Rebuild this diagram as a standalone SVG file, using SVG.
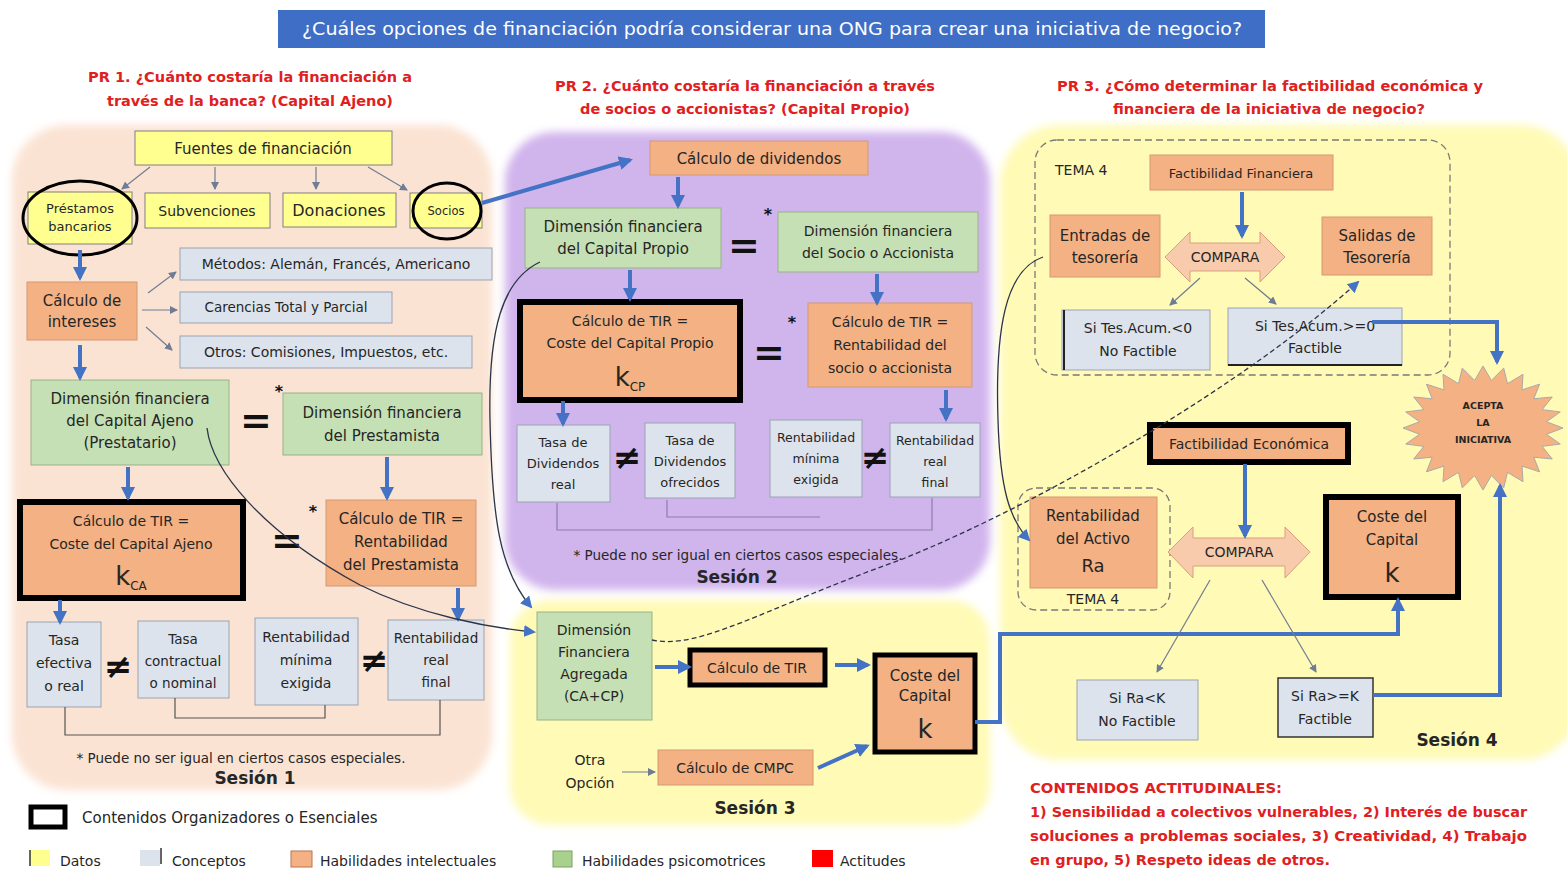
<svg xmlns="http://www.w3.org/2000/svg" width="1567" height="874" viewBox="0 0 1567 874">
<style>
text{font-family:"DejaVu Sans","Liberation Sans",sans-serif;fill:#262626;text-anchor:middle}
.s12{font-size:12.5px}.s13{font-size:13px}.s135{font-size:13.5px}.s14{font-size:14px}.s15{font-size:15px}.s16{font-size:16px}
.red{fill:#E0201E;font-weight:bold;font-size:13.5px}
.ses{font-size:17px;font-weight:bold}
.eq{font-size:38px;font-weight:bold;fill:#111}
.ne{font-size:34px;font-weight:bold;fill:#111}
.ast{font-size:16px;font-weight:bold;fill:#111}
.yel{fill:#FFFF8F;stroke:#7F7F7F;stroke-width:1}
.ora{fill:#F4B183;stroke:#D39A74;stroke-width:1}
.grn{fill:#C5E0B4;stroke:#97B386;stroke-width:1}
.con{fill:#DDE3EC;stroke:#9AA3B5;stroke-width:1}
.ess{stroke:#000;stroke-width:6}
.ess5{stroke:#000;stroke-width:5}
.blue{stroke:#4472C4;stroke-width:4;fill:none;marker-end:url(#ab)}
.thin{stroke:#6F7C94;stroke-width:1.2;fill:none;marker-end:url(#at)}
.curve{stroke:#2B3448;stroke-width:1.3;fill:none;marker-end:url(#ab2)}
.dash{stroke:#2B3448;stroke-width:1.3;fill:none;stroke-dasharray:5 3;marker-end:url(#ab2)}
.brk{stroke:#555;stroke-width:1.2;fill:none}
.tema{fill:none;stroke:#7A7A7A;stroke-width:1.3;stroke-dasharray:7 4}
</style>
<defs>
<marker id="ab" markerUnits="userSpaceOnUse" markerWidth="14" markerHeight="14" refX="11" refY="7" orient="auto"><path d="M0,0 L14,7 L0,14 z" fill="#4472C4"/></marker>
<marker id="ab2" markerUnits="userSpaceOnUse" markerWidth="12" markerHeight="12" refX="10" refY="6" orient="auto"><path d="M0,0 L12,6 L0,12 z" fill="#4472C4"/></marker>
<marker id="at" markerUnits="userSpaceOnUse" markerWidth="8" markerHeight="8" refX="7" refY="4" orient="auto"><path d="M0,0 L8,4 L0,8 z" fill="#6F7C94"/></marker>
<filter id="soft" x="-5%" y="-5%" width="110%" height="110%"><feGaussianBlur stdDeviation="4"/></filter>
</defs>
<rect width="1567" height="874" fill="#FFFFFF"/>

<!-- session backgrounds -->
<g id="backgrounds" filter="url(#soft)">
<rect x="12" y="125" width="480" height="665" rx="55" fill="#FBE3D3"/>
<rect x="505" y="132" width="485" height="458" rx="50" fill="#D0B4EC"/>
<rect x="510" y="600" width="480" height="225" rx="40" fill="#FFFAB5"/>
<rect x="1000" y="125" width="580" height="635" rx="60" fill="#FFFAB5"/>
</g>

<!-- title -->
<g id="title">
<rect x="278" y="10" width="987" height="38" fill="#3F6EC6"/>
<text x="772" y="35" style="font-size:18px;fill:#FFFFFF" textLength="940" lengthAdjust="spacingAndGlyphs">¿Cuáles opciones de financiación podría considerar una ONG para crear una iniciativa de negocio?</text>
</g>
<g id="questions">
<text class="red" x="250" y="82" textLength="324" lengthAdjust="spacingAndGlyphs">PR 1. ¿Cuánto costaría la financiación a</text>
<text class="red" x="250" y="106" textLength="286" lengthAdjust="spacingAndGlyphs">través de la banca? (Capital Ajeno)</text>
<text class="red" x="745" y="91" textLength="380" lengthAdjust="spacingAndGlyphs">PR 2. ¿Cuánto costaría la financiación a través</text>
<text class="red" x="745" y="114" textLength="330" lengthAdjust="spacingAndGlyphs">de socios o accionistas? (Capital Propio)</text>
<text class="red" x="1270" y="91" textLength="426" lengthAdjust="spacingAndGlyphs">PR 3. ¿Cómo determinar la factibilidad económica y</text>
<text class="red" x="1269" y="114" textLength="312" lengthAdjust="spacingAndGlyphs">financiera de la iniciativa de negocio?</text>
</g>

<!-- Session 1 nodes -->
<g id="fuentes"><rect class="yel" x="135" y="131" width="257" height="34"/><text class="s15" x="263" y="154">Fuentes de financiación</text></g>
<g id="prestamos"><rect class="yel" x="28" y="192" width="104" height="52"/><text class="s13" x="80" y="213">Préstamos</text><text class="s13" x="80" y="231">bancarios</text><ellipse cx="80" cy="218" rx="57" ry="37" fill="none" stroke="#000" stroke-width="3"/></g>
<g id="subvenciones"><rect class="yel" x="145" y="193" width="125" height="35"/><text class="s14" x="207" y="216">Subvenciones</text></g>
<g id="donaciones"><rect class="yel" x="283" y="193" width="113" height="34"/><text class="s16" x="339" y="216">Donaciones</text></g>
<g id="socios"><rect class="yel" x="410" y="193" width="72" height="35"/><text style="font-size:11.5px" x="446" y="215">Socios</text><ellipse cx="447" cy="211" rx="34" ry="28" fill="none" stroke="#000" stroke-width="3"/></g>
<g id="calculo-intereses"><rect class="ora" x="27" y="282" width="110" height="58"/><text class="s15" x="82" y="306">Cálculo de</text><text class="s15" x="82" y="327">intereses</text></g>
<g id="metodos"><rect class="con" x="180" y="248" width="312" height="32"/><text class="s14" x="336" y="269">Métodos: Alemán, Francés, Americano</text></g>
<g id="carencias"><rect class="con" x="180" y="292" width="212" height="31"/><text class="s135" x="286" y="312">Carencias Total y Parcial</text></g>
<g id="otros"><rect class="con" x="180" y="336" width="292" height="32"/><text class="s14" x="326" y="357">Otros: Comisiones, Impuestos, etc.</text></g>
<g id="dim-ca"><rect class="grn" x="31" y="380" width="198" height="85"/><text class="s15" x="130" y="404">Dimensión financiera</text><text class="s15" x="130" y="426">del Capital Ajeno</text><text class="s15" x="130" y="448">(Prestatario)</text></g>
<text class="eq" x="256" y="433">=</text><text class="ast" x="279" y="397">*</text>
<g id="dim-prestamista"><rect class="grn" x="283" y="393" width="199" height="62"/><text class="s15" x="382" y="418">Dimensión financiera</text><text class="s15" x="382" y="441">del Prestamista</text></g>
<g id="tir-ca"><rect class="ora ess" x="20" y="502" width="223" height="96"/><text class="s14" x="131" y="526">Cálculo de TIR =</text><text class="s14" x="131" y="549">Coste del Capital Ajeno</text><text x="131" y="585"><tspan style="font-size:26px">k</tspan><tspan style="font-size:12px" dy="5">CA</tspan></text></g>
<text class="eq" x="287" y="553">=</text><text class="ast" x="313" y="517">*</text>
<g id="tir-prestamista"><rect class="ora" x="326" y="500" width="150" height="86"/><text class="s15" x="401" y="524">Cálculo de TIR =</text><text class="s15" x="401" y="547">Rentabilidad</text><text class="s15" x="401" y="570">del Prestamista</text></g>
<g id="tasa-efectiva"><rect class="con" x="27" y="622" width="74" height="85"/><text class="s14" x="64" y="645">Tasa</text><text class="s14" x="64" y="668">efectiva</text><text class="s14" x="64" y="691">o real</text></g>
<text class="ne" x="118" y="678">≠</text>
<g id="tasa-contractual"><rect class="con" x="138" y="621" width="91" height="77"/><text class="s135" x="183" y="644">Tasa</text><text class="s135" x="183" y="666">contractual</text><text class="s135" x="183" y="688">o nominal</text></g>
<g id="rent-minima-1"><rect class="con" x="255" y="618" width="103" height="87"/><text class="s14" x="306" y="642">Rentabilidad</text><text class="s14" x="306" y="665">mínima</text><text class="s14" x="306" y="688">exigida</text></g>
<text class="ne" x="374" y="672">≠</text>
<g id="rent-real-1"><rect class="con" x="388" y="620" width="96" height="80"/><text class="s135" x="436" y="643">Rentabilidad</text><text class="s135" x="436" y="665">real</text><text class="s135" x="436" y="687">final</text></g>
<text class="s135" x="241" y="763">* Puede no ser igual en ciertos casos especiales.</text>
<text class="ses" x="255" y="784">Sesión 1</text>

<!-- Session 2 nodes -->
<g id="calculo-dividendos"><rect class="ora" x="650" y="141" width="218" height="34"/><text class="s15" x="759" y="164">Cálculo de dividendos</text></g>
<g id="dim-cp"><rect class="grn" x="525" y="208" width="196" height="60"/><text class="s15" x="623" y="232">Dimensión financiera</text><text class="s15" x="623" y="254">del Capital Propio</text></g>
<text class="eq" x="744" y="258">=</text><text class="ast" x="768" y="220">*</text>
<g id="dim-socio"><rect class="grn" x="778" y="212" width="200" height="60"/><text class="s14" x="878" y="236">Dimensión financiera</text><text class="s14" x="878" y="258">del Socio o Accionista</text></g>
<g id="tir-cp"><rect class="ora ess" x="520" y="302" width="220" height="98"/><text class="s14" x="630" y="326">Cálculo de TIR =</text><text class="s14" x="630" y="348">Coste del Capital Propio</text><text x="630" y="386"><tspan style="font-size:26px">k</tspan><tspan style="font-size:12px" dy="5">CP</tspan></text></g>
<text class="eq" x="769" y="365">=</text><text class="ast" x="792" y="328">*</text>
<g id="tir-socio"><rect class="ora" x="808" y="303" width="164" height="84"/><text class="s14" x="890" y="327">Cálculo de TIR =</text><text class="s14" x="890" y="350">Rentabilidad del</text><text class="s14" x="890" y="373">socio o accionista</text></g>
<g id="tasa-div-real"><rect class="con" x="517" y="425" width="93" height="77"/><text class="s13" x="563" y="447">Tasa de</text><text class="s13" x="563" y="468">Dividendos</text><text class="s13" x="563" y="489">real</text></g>
<text class="ne" x="627" y="469">≠</text>
<g id="tasa-div-ofrecidos"><rect class="con" x="645" y="423" width="90" height="75"/><text class="s13" x="690" y="445">Tasa de</text><text class="s13" x="690" y="466">Dividendos</text><text class="s13" x="690" y="487">ofrecidos</text></g>
<g id="rent-minima-2"><rect class="con" x="770" y="420" width="92" height="77"/><text class="s12" x="816" y="442">Rentabilidad</text><text class="s12" x="816" y="463">mínima</text><text class="s12" x="816" y="484">exigida</text></g>
<text class="ne" x="875" y="469">≠</text>
<g id="rent-real-2"><rect class="con" x="890" y="423" width="90" height="74"/><text class="s12" x="935" y="445">Rentabilidad</text><text class="s12" x="935" y="466">real</text><text class="s12" x="935" y="487">final</text></g>
<text class="s135" x="738" y="560">* Puede no ser igual en ciertos casos especiales.</text>
<text class="ses" x="737" y="583">Sesión 2</text>

<!-- Session 3 nodes -->
<g id="dim-agregada"><rect class="grn" x="537" y="612" width="115" height="108"/><text class="s14" x="594" y="635">Dimensión</text><text class="s14" x="594" y="657">Financiera</text><text class="s14" x="594" y="679">Agregada</text><text class="s14" x="594" y="701">(CA+CP)</text></g>
<g id="calculo-tir"><rect class="ora ess5" x="690" y="650" width="135" height="35"/><text class="s14" x="757" y="673">Cálculo de TIR</text></g>
<g id="coste-capital-3"><rect class="ora ess5" x="875" y="655" width="100" height="97"/><text class="s15" x="925" y="681">Coste del</text><text class="s15" x="925" y="701">Capital</text><text x="925" y="738" style="font-size:26px">k</text></g>
<g id="otra-opcion"><text class="s14" x="590" y="765">Otra</text><text class="s14" x="590" y="788">Opción</text></g>
<g id="calculo-cmpc"><rect class="ora" x="658" y="750" width="155" height="35"/><text class="s14" x="735" y="773">Cálculo de CMPC</text></g>
<text class="ses" x="755" y="814">Sesión 3</text>

<!-- Session 4 nodes -->
<rect class="tema" x="1035" y="140" width="415" height="235" rx="22"/>
<text class="s14" x="1055" y="175" style="text-anchor:start">TEMA 4</text>
<g id="fact-financiera"><rect class="ora" x="1150" y="155" width="183" height="35"/><text class="s13" x="1241" y="178">Factibilidad Financiera</text></g>
<g id="entradas"><rect class="ora" x="1050" y="215" width="110" height="62"/><text class="s15" x="1105" y="241">Entradas de</text><text class="s15" x="1105" y="263">tesorería</text></g>
<g id="compara-1"><polygon points="1165,257 1190,232 1190,243 1260,243 1260,232 1285,257 1260,282 1260,271 1190,271 1190,282" fill="#F8CBAD" stroke="#D9A07A" stroke-width="1"/><text class="s14" x="1225" y="262">COMPARA</text></g>
<g id="salidas"><rect class="ora" x="1322" y="217" width="110" height="58"/><text class="s15" x="1377" y="241">Salidas de</text><text class="s15" x="1377" y="263">Tesorería</text></g>
<g id="tes-no"><rect class="con" x="1062" y="310" width="148" height="60"/><line x1="1064" y1="310" x2="1064" y2="370" stroke="#222" stroke-width="2"/><text class="s14" x="1138" y="333">Si Tes.Acum.&lt;0</text><text class="s14" x="1138" y="356">No Factible</text></g>
<g id="tes-si"><rect class="con" x="1228" y="308" width="174" height="57"/><line x1="1228" y1="365" x2="1402" y2="365" stroke="#222" stroke-width="2"/><text class="s14" x="1315" y="331">Si Tes.Acum.&gt;=0</text><text class="s14" x="1315" y="353">Factible</text></g>
<g id="acepta"><polygon fill="#F4B183" stroke="#A9A9A9" stroke-width="1" points="1563,428 1546.45,434.26 1560.27,444.05 1542.13,446.37 1552.28,459 1533.78,457.22 1539.57,471.84 1521.96,466.08 1523,481.69 1507.49,472.35 1503.7,487.89 1491.35,475.59 1483,490 1474.65,475.59 1462.3,487.89 1458.51,472.35 1443,481.69 1444.04,466.08 1426.43,471.84 1432.22,457.22 1413.72,459 1423.87,446.37 1405.73,444.05 1419.55,434.26 1403,428 1419.55,421.74 1405.73,411.95 1423.87,409.63 1413.72,397 1432.22,398.78 1426.43,384.16 1444.04,389.92 1443,374.31 1458.51,383.65 1462.3,368.11 1474.65,380.41 1483,366 1491.35,380.41 1503.7,368.11 1507.49,383.65 1523,374.31 1521.96,389.92 1539.57,384.16 1533.78,398.78 1552.28,397 1542.13,409.63 1560.27,411.95 1546.45,421.74"/><text x="1483" y="409" style="font-size:9.5px;font-weight:bold">ACEPTA</text><text x="1483" y="426" style="font-size:9.5px;font-weight:bold">LA</text><text x="1483" y="443" style="font-size:9.5px;font-weight:bold">INICIATIVA</text></g>
<g id="fact-economica"><rect class="ora ess" x="1150" y="425" width="198" height="37"/><text class="s14" x="1249" y="449">Factibilidad Económica</text></g>
<rect class="tema" x="1018" y="488" width="152" height="122" rx="18"/>
<g id="rent-activo"><rect class="ora" x="1030" y="497" width="127" height="91"/><text class="s15" x="1093" y="521">Rentabilidad</text><text class="s15" x="1093" y="544">del Activo</text><text x="1093" y="572" style="font-size:18px">Ra</text></g>
<text class="s14" x="1093" y="604">TEMA 4</text>
<g id="compara-2"><polygon points="1168,552 1193,527 1193,538 1285,538 1285,527 1310,552 1285,578 1285,566 1193,566 1193,578" fill="#F8CBAD" stroke="#D9A07A" stroke-width="1"/><text class="s14" x="1239" y="557">COMPARA</text></g>
<g id="coste-capital-4"><rect class="ora ess" x="1326" y="497" width="132" height="100"/><text class="s15" x="1392" y="522">Coste del</text><text class="s15" x="1392" y="545">Capital</text><text x="1392" y="582" style="font-size:26px">k</text></g>
<g id="ra-no"><rect class="con" x="1077" y="680" width="121" height="60"/><text class="s14" x="1137" y="703">Si Ra&lt;K</text><text class="s14" x="1137" y="726">No Factible</text></g>
<g id="ra-si"><rect class="con" x="1278" y="678" width="95" height="59" style="stroke:#333;stroke-width:1.5"/><text class="s14" x="1325" y="701">Si Ra&gt;=K</text><text class="s14" x="1325" y="724">Factible</text></g>
<text class="ses" x="1457" y="746">Sesión 4</text>

<!-- connectors -->
<g id="connectors">
<path class="thin" d="M150,167 L122,189"/>
<path class="thin" d="M215,167 L215,189"/>
<path class="thin" d="M316,167 L316,189"/>
<path class="thin" d="M368,167 L407,190"/>
<path class="blue" d="M80,250 L80,278"/>
<path class="thin" d="M148,293 L176,272"/>
<path class="thin" d="M142,310 L177,310"/>
<path class="thin" d="M146,327 L172,350"/>
<path class="blue" d="M80,345 L80,378"/>
<path class="blue" d="M128,467 L128,498"/>
<path class="blue" d="M387,457 L387,498"/>
<path class="blue" d="M60,600 L60,622"/>
<path class="blue" d="M458,588 L458,619"/>
<path class="brk" d="M175,698 V718 H325 V705"/>
<path class="brk" d="M65,707 V735 H440 V700"/>
<path class="blue" d="M482,203 L630,160"/>
<path class="curve" d="M207,428 C212,470 262,532 360,585 C420,615 490,628 534,632"/>
<path class="curve" d="M540,262 C502,280 488,330 490,420 C492,520 500,570 531,607"/>
<path class="blue" d="M678,177 L678,206"/>
<path class="blue" d="M630,270 L630,299"/>
<path class="blue" d="M877,274 L877,303"/>
<path class="blue" d="M563,401 L563,424"/>
<path class="blue" d="M946,390 L946,419"/>
<path class="brk" d="M667,500 V517 H820" style="stroke:#8E7FA8"/>
<path class="brk" d="M557,503 V530 H932 V498" style="stroke:#8E7FA8"/>
<path class="blue" d="M655,667 L689,667"/>
<path class="blue" d="M835,665 L868,665"/>
<path class="thin" d="M622,772 L655,772"/>
<path class="blue" d="M818,768 L867,746"/>
<path class="blue" d="M975,722 H1000 V634 H1398 V600"/>
<path class="dash" d="M652,640 C700,650 760,610 900,560 C1050,500 1250,380 1358,282"/>
<path class="curve" d="M1043,257 C1005,270 995,330 998,420 C1000,490 1010,520 1029,540"/>
<path class="blue" d="M1242,192 L1242,236"/>
<path class="thin" d="M1200,278 L1170,305"/>
<path class="thin" d="M1245,278 L1276,304"/>
<path class="blue" d="M1372,322 H1497 V362"/>
<path class="blue" d="M1245,464 L1245,536"/>
<path class="thin" d="M1210,580 L1157,672"/>
<path class="thin" d="M1262,580 L1316,672"/>
<path class="blue" d="M1373,695 H1500 V486"/>
</g>

<!-- legend -->
<g id="legend">
<rect x="31" y="807" width="34" height="20" fill="#FFFFFF" stroke="#000" stroke-width="5"/>
<text class="s15" x="82" y="823" style="text-anchor:start">Contenidos Organizadores o Esenciales</text>
<rect x="30" y="850" width="20" height="16" fill="#FFFF8F"/><line x1="30" y1="850" x2="30" y2="866" stroke="#333" stroke-width="1.5"/>
<text class="s14" x="60" y="866" style="text-anchor:start">Datos</text>
<rect x="140" y="850" width="20" height="16" fill="#DDE3EC"/><line x1="161" y1="848" x2="161" y2="864" stroke="#333" stroke-width="1.5"/>
<text class="s14" x="172" y="866" style="text-anchor:start">Conceptos</text>
<rect x="291" y="851" width="21" height="16" fill="#F4B183" stroke="#C07050" stroke-width="1"/>
<text class="s14" x="320" y="866" style="text-anchor:start">Habilidades intelectuales</text>
<rect x="553" y="851" width="19" height="16" fill="#A9D18E" stroke="#7FA060" stroke-width="1"/>
<text class="s14" x="582" y="866" style="text-anchor:start">Habilidades psicomotrices</text>
<rect x="812" y="850" width="21" height="17" fill="#FF0000"/>
<text class="s14" x="840" y="866" style="text-anchor:start">Actitudes</text>
</g>

<!-- actitudinales -->
<g id="actitudinales">
<text class="red" x="1030" y="793" style="text-anchor:start" textLength="252" lengthAdjust="spacingAndGlyphs">CONTENIDOS ACTITUDINALES:</text>
<text class="red" x="1030" y="817" style="text-anchor:start" textLength="497" lengthAdjust="spacingAndGlyphs">1) Sensibilidad a colectivos vulnerables, 2) Interés de buscar</text>
<text class="red" x="1030" y="841" style="text-anchor:start" textLength="497" lengthAdjust="spacingAndGlyphs">soluciones a problemas sociales, 3) Creatividad, 4) Trabajo</text>
<text class="red" x="1030" y="865" style="text-anchor:start" textLength="300" lengthAdjust="spacingAndGlyphs">en grupo, 5) Respeto ideas de otros.</text>
</g>
</svg>
